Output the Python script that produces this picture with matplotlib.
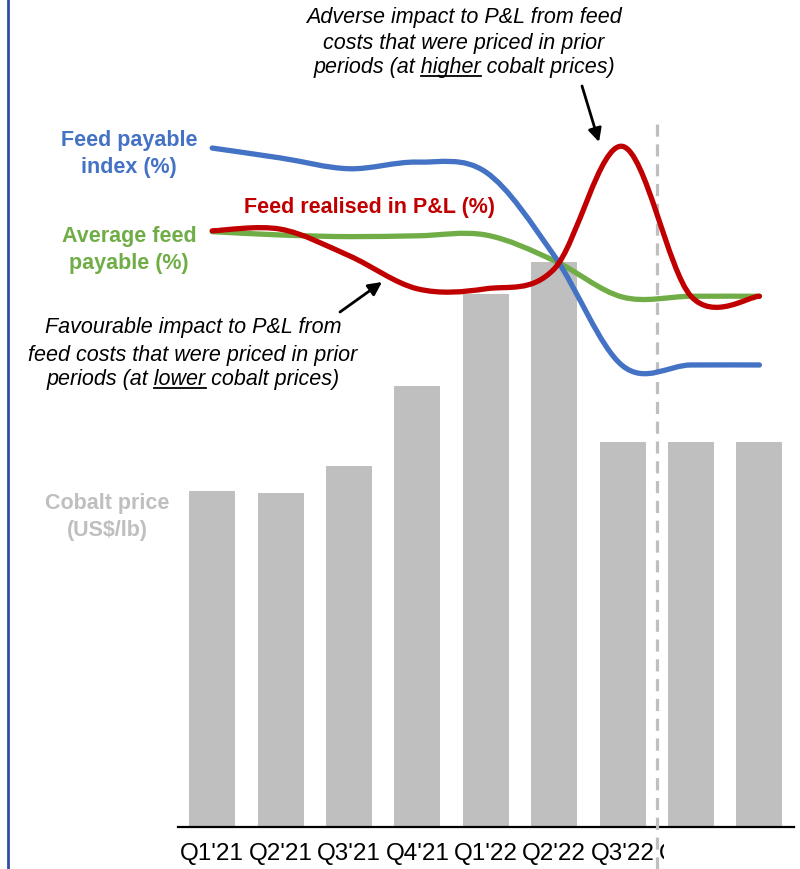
import matplotlib
matplotlib.use("Agg")
import matplotlib.pyplot as plt
from matplotlib.path import Path
from matplotlib.patches import PathPatch, Rectangle
from matplotlib.lines import Line2D
import numpy as np

plt.rcParams["font.family"] = ["Liberation Sans", "DejaVu Sans"]

# data
quarters = ["Q1'21", "Q2'21", "Q3'21", "Q4'21", "Q1'22", "Q2'22", "Q3'22", "Q4'22", "Q1'23"]
cobalt_price = [22.3, 22.2, 24.0, 29.3, 35.4, 37.5, 25.6, 25.6, 25.6]        # US$/lb
feed_payable_index = [82.0, 80.8, 79.5, 80.3, 79.1, 69.0, 55.7, 55.8, 55.8]  # %
avg_feed_payable = [71.9, 71.5, 71.3, 71.4, 71.5, 68.4, 64.0, 64.1, 64.1]    # %
feed_realised = [72.0, 72.2, 69.0, 65.0, 65.0, 67.4, 82.2, 64.1, 64.1]       # %

BLUE = "#4472C4"
GREEN = "#70AD47"
RED = "#C00000"
GREY = "#BFBFBF"

W, H = 800, 870


def fx(px):
    return px / W


def fy(py):
    return 1 - py / H


def smooth_path(xs, ys):
    # excel style smoothed line: bezier segments with catmull-rom tangents
    xs = np.asarray(xs, float)
    ys = np.asarray(ys, float)
    n = len(xs)
    verts = [(xs[0], ys[0])]
    codes = [Path.MOVETO]
    for i in range(n - 1):
        i0 = max(i - 1, 0)
        i3 = min(i + 2, n - 1)
        c1 = (xs[i] + (xs[i + 1] - xs[i0]) / 6, ys[i] + (ys[i + 1] - ys[i0]) / 6)
        c2 = (xs[i + 1] - (xs[i3] - xs[i]) / 6, ys[i + 1] - (ys[i3] - ys[i]) / 6)
        verts += [c1, c2, (xs[i + 1], ys[i + 1])]
        codes += [Path.CURVE4] * 3
    return Path(verts, codes)


fig = plt.figure(figsize=(8, 8.7), dpi=100)
ax = fig.add_axes([fx(178), 42 / H, 615.6 / W, 828 / H])
x = np.arange(len(quarters))
ax.bar(x, cobalt_price, width=0.67, color=GREY, zorder=2)
ax.set_xlim(-0.5, 8.5)
ax.set_ylim(0, 55)
for s in ["top", "right", "left"]:
    ax.spines[s].set_visible(False)
ax.spines["bottom"].set_linewidth(1.6)
ax.spines["bottom"].set_color("black")
ax.set_yticks([])
ax.set_xticks(x, quarters)
ax.tick_params(axis="x", length=0, pad=11, labelsize=17.5)
ax.patch.set_visible(False)

ax2 = ax.twinx()
ax2.set_ylim(0, 100)
ax2.set_axis_off()

# dashed divider between actuals and forecast
ax2.plot([6.5, 6.5], [-5.1, 85.5], color=GREY, lw=2.3, ls=(0, (3.8, 2.4)),
         clip_on=False, zorder=1)

for ys, col, z in [(avg_feed_payable, GREEN, 3), (feed_payable_index, BLUE, 4),
                   (feed_realised, RED, 5)]:
    ax2.add_patch(PathPatch(smooth_path(x, ys), facecolor="none", edgecolor=col,
                            lw=3.8, capstyle="round", zorder=z))

# hide the cut-off labels right of the divider
fig.add_artist(Rectangle((fx(664), 0), 1, 38 / H, transform=fig.transFigure,
                         facecolor="white", edgecolor="none", zorder=10))

# left border line
fig.add_artist(Line2D([fx(8), fx(8)], [0, 1], transform=fig.transFigure,
                      color="#2F4EA3", lw=2))

# series labels
fig.text(fx(129), fy(154), "Feed payable\nindex (%)", color=BLUE, fontsize=15.5,
         fontweight="bold", ha="center", va="center", linespacing=1.35)
fig.text(fx(129), fy(250), "Average feed\npayable (%)", color=GREEN, fontsize=15.5,
         fontweight="bold", ha="center", va="center", linespacing=1.35)
fig.text(fx(370), fy(208), "Feed realised in P&L (%)", color=RED, fontsize=15.5,
         fontweight="bold", ha="center", va="center")
fig.text(fx(107), fy(517), "Cobalt price\n(US$/lb)", color=GREY, fontsize=15.5,
         fontweight="bold", ha="center", va="center", linespacing=1.35)

# italic call-outs
fav_lines = ["Favourable impact to P&L from",
             "feed costs that were priced in prior",
             "periods (at lower cobalt prices)"]
adv_lines = ["Adverse impact to P&L from feed",
             "costs that were priced in prior",
             "periods (at higher cobalt prices)"]

fav_texts = [fig.text(fx(193), fy(py), t, fontsize=15.5, style="italic",
                      ha="center", va="center")
             for py, t in zip([328, 355, 380], fav_lines)]
adv_texts = [fig.text(fx(464), fy(py), t, fontsize=15.5, style="italic",
                      ha="center", va="center")
             for py, t in zip([17, 43, 68], adv_lines)]

fig.canvas.draw()
renderer = fig.canvas.get_renderer()


def underline(txt, word):
    full = txt.get_text()
    bb = txt.get_window_extent(renderer)
    tmp = fig.text(0, 0, full[:full.index(word) + len(word)],
                   fontproperties=txt.get_fontproperties())
    w1 = tmp.get_window_extent(renderer).width
    tmp.set_text(word)
    w2 = tmp.get_window_extent(renderer).width
    tmp.remove()
    x0 = bb.x0 + w1 - w2
    x1 = bb.x0 + w1
    y = bb.y0 + 2
    fig.add_artist(Line2D([x0 / W, x1 / W], [y / H, y / H], transform=fig.transFigure,
                          color="black", lw=1.3))


underline(fav_texts[2], "lower")
underline(adv_texts[2], "higher")

arrow = dict(arrowstyle="-|>", lw=2, color="black", mutation_scale=20,
             shrinkA=0, shrinkB=0)
fig.add_artist(plt.Annotation("", xy=(fx(382), fy(283)), xycoords="figure fraction",
                              xytext=(fx(340), fy(313)), textcoords="figure fraction",
                              arrowprops=arrow))
fig.add_artist(plt.Annotation("", xy=(fx(599), fy(143)), xycoords="figure fraction",
                              xytext=(fx(582), fy(87)), textcoords="figure fraction",
                              arrowprops=arrow))

fig.savefig("out.png", dpi=100)
